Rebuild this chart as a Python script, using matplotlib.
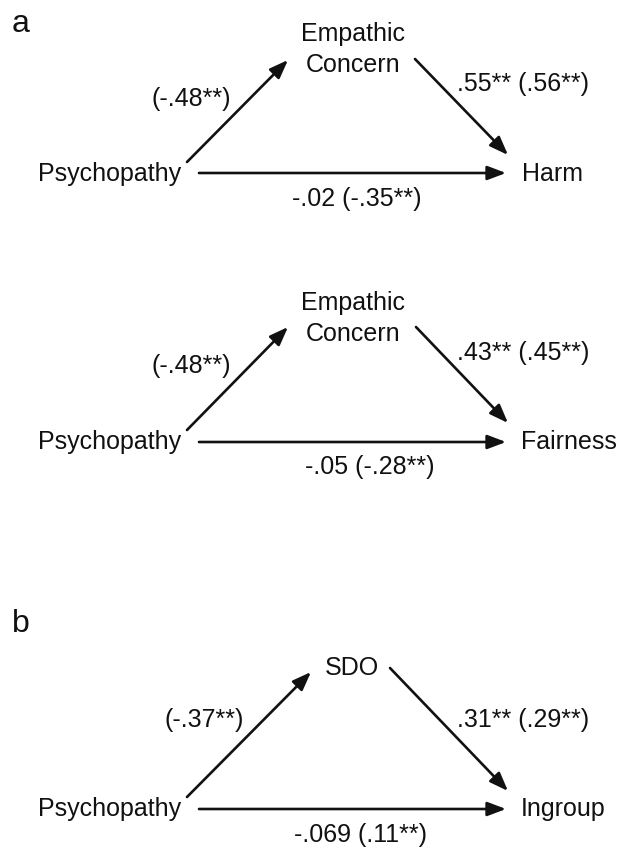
import matplotlib
matplotlib.use("Agg")
import matplotlib.pyplot as plt

# ---- data (labels and path coefficients) ----
panel_labels = ["a", "b"]
predictors = ["Psychopathy", "Psychopathy", "Psychopathy"]
mediators = ["Empathic\nConcern", "Empathic\nConcern", "SDO"]
outcomes = ["Harm", "Fairness", "Ingroup"]
path_a = ["(-.48**)", "(-.48**)", "(-.37**)"]
path_b = [".55** (.56**)", ".43** (.45**)", ".31** (.29**)"]
path_c = ["-.02 (-.35**)", "-.05 (-.28**)", "-.069 (.11**)"]

# ---- layout (pixel coordinates, y downward) ----
panel_label_pos = [(12, 32), (12, 632)]
layout = [
    dict(pred=(110, 181), med=(353, 72), out=(522, 181),
         up=((187, 162), (288, 60)), down=((415, 59), (508, 155)),
         horiz=((199, 173), (506, 173)),
         a=(191, 106), b=(523, 91), c=(357, 206)),
    dict(pred=(110, 449), med=(353, 341), out=(521, 449),
         up=((187, 430), (288, 327)), down=((416, 327), (508, 423)),
         horiz=((199, 442), (506, 442)),
         a=(191, 373), b=(523, 360), c=(370, 474)),
    dict(pred=(110, 816), med=(352, 675), out=(521, 816),
         up=((187, 797), (311, 672)), down=((390, 668), (508, 791)),
         horiz=((199, 809), (506, 809)),
         a=(204, 727), b=(523, 727), c=(360, 842)),
]

W, H = 618, 851
fig = plt.figure(figsize=(W / 100, H / 100), dpi=100)
ax = fig.add_axes([0, 0, 1, 1])
ax.set_xlim(0, W)
ax.set_ylim(H, 0)
ax.axis("off")

ink = "#111111"
font = dict(family=["Liberation Sans", "DejaVu Sans"], size=18, color=ink)
arrow_kw = dict(arrowstyle="-|>,head_length=0.45,head_width=0.17",
                lw=1.9, color=ink, mutation_scale=25, shrinkA=0, shrinkB=0)

for lab, (x, y) in zip(panel_labels, panel_label_pos):
    ax.text(x, y, lab, ha="left", va="baseline",
            family=["Liberation Sans", "DejaVu Sans"], size=23, color=ink)

for i, L in enumerate(layout):
    ax.text(*L["pred"], predictors[i], ha="center", va="baseline", **font)
    ax.text(*L["med"], mediators[i], ha="center", va="baseline",
            multialignment="center", linespacing=1.36, **font)
    ax.text(*L["out"], outcomes[i], ha="left", va="baseline", **font)
    for key in ("up", "down", "horiz"):
        s, t = L[key]
        ax.annotate("", xy=t, xytext=s, xycoords="data", arrowprops=arrow_kw)
    ax.text(*L["a"], path_a[i], ha="center", va="baseline", **font)
    ax.text(*L["b"], path_b[i], ha="center", va="baseline", **font)
    ax.text(*L["c"], path_c[i], ha="center", va="baseline", **font)

fig.savefig("out.png", dpi=100, facecolor="white")
